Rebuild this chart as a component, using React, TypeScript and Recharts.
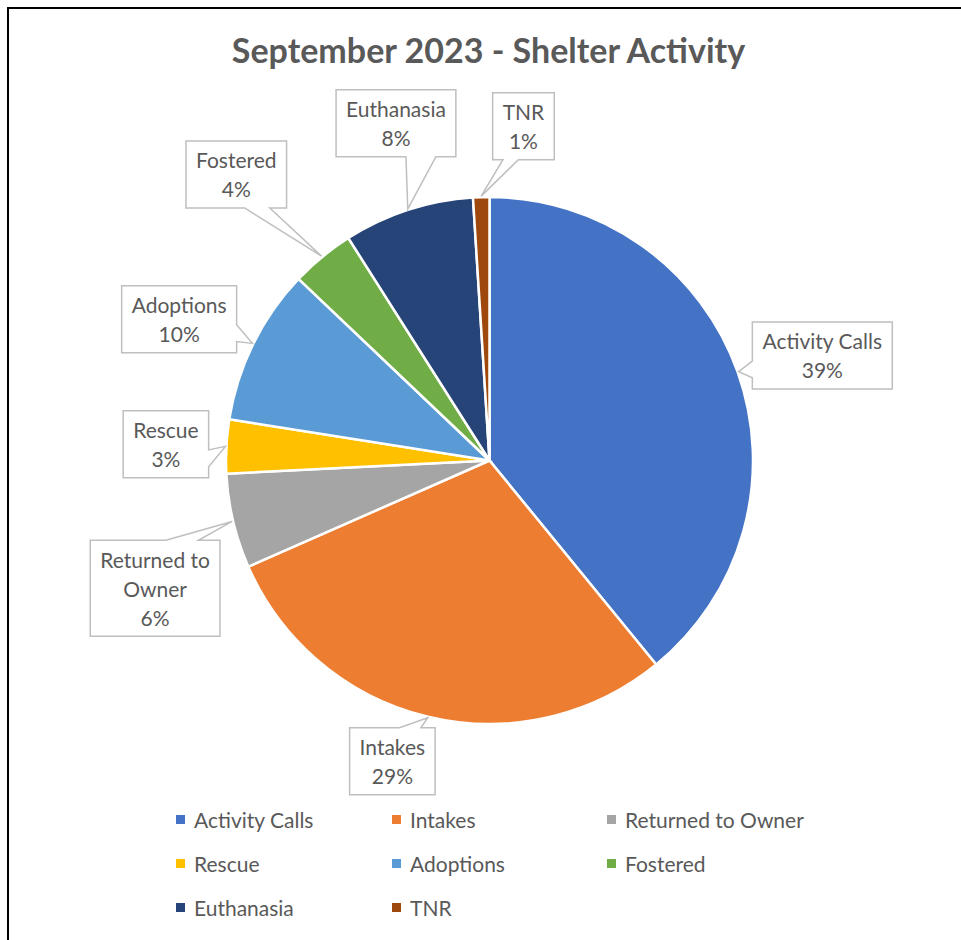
import React from "react";
import { PieChart, Pie, Cell, Legend } from "recharts";

const categories = [
  "Activity Calls",
  "Intakes",
  "Returned to Owner",
  "Rescue",
  "Adoptions",
  "Fostered",
  "Euthanasia",
  "TNR",
];
const values = [39.1, 29.3, 5.8, 3.3, 9.6, 3.9, 8.0, 1.0];
const colors = ["#4472C4", "#ED7D31", "#A5A5A5", "#FFC000", "#5B9BD5", "#70AD47", "#264478", "#9E480E"];

// callout placement: distance of box centre from pie centre, and angle nudge (deg, clockwise)
const labelDist = [349, 316, 358, 324, 341, 382, 350, 336];
const labelShift = [2.1, 4.4, -7.6, -0.2, -1.8, -2.1, 2.5, 7.6];

const data = categories.map((name, i) => ({ name, value: values[i] }));

const FONT = "Lato, 'Open Sans', sans-serif";
const TEXT = "#595959";
const LABEL_SIZE = 21;
const LINE_H = 29;

let ctx: CanvasRenderingContext2D | null = null;
function measure(s: string) {
  if (!ctx) ctx = document.createElement("canvas").getContext("2d");
  if (!ctx) return s.length * 10;
  ctx.font = `${LABEL_SIZE}px Lato`;
  return ctx.measureText(s).width;
}

function wrap(text: string, maxW: number) {
  const words = text.split(" ");
  const out: string[] = [];
  let cur = "";
  for (const w of words) {
    const t = cur ? cur + " " + w : w;
    if (cur && measure(t) > maxW) {
      out.push(cur);
      cur = w;
    } else cur = t;
  }
  if (cur) out.push(cur);
  return out;
}

// same geometry as the wedgeRectCallout shape
function calloutPath(x: number, y: number, w: number, h: number, px: number, py: number) {
  const dx = px - (x + w / 2);
  const dy = py - (y + h / 2);
  const horiz = Math.abs(dx) / w > Math.abs(dy) / h;
  const x1 = x + (w * (dx > 0 ? 7 : 2)) / 12;
  const x2 = x + (w * (dx > 0 ? 10 : 5)) / 12;
  const y1 = y + (h * (dy > 0 ? 7 : 2)) / 12;
  const y2 = y + (h * (dy > 0 ? 10 : 5)) / 12;
  const r = x + w;
  const b = y + h;
  let d = `M${x},${y}`;
  if (!horiz && dy < 0) d += ` L${x1},${y} L${px},${py} L${x2},${y}`;
  d += ` L${r},${y}`;
  if (horiz && dx > 0) d += ` L${r},${y1} L${px},${py} L${r},${y2}`;
  d += ` L${r},${b}`;
  if (!horiz && dy > 0) d += ` L${x2},${b} L${px},${py} L${x1},${b}`;
  d += ` L${x},${b}`;
  if (horiz && dx < 0) d += ` L${x},${y2} L${px},${py} L${x},${y1}`;
  return d + " Z";
}

const renderLabel = (props: any) => {
  const { cx, cy, midAngle, outerRadius, percent, name, index } = props;
  const RAD = Math.PI / 180;
  const tx = cx + (outerRadius + 1) * Math.cos(-midAngle * RAD);
  const ty = cy + (outerRadius + 1) * Math.sin(-midAngle * RAD);
  const theta = (90 - midAngle + labelShift[index]) * RAD;
  const bx = cx + labelDist[index] * Math.sin(theta);
  const by = cy - labelDist[index] * Math.cos(theta);
  const lines = [...wrap(name, 135), `${Math.round(percent * 100)}%`];
  const w = Math.max(...lines.map(measure)) + 20;
  const h = lines.length * LINE_H + 9;
  return (
    <g>
      <path d={calloutPath(bx - w / 2, by - h / 2, w, h, tx, ty)} fill="#fff" stroke="#BFBFBF" strokeWidth={1.5} />
      {lines.map((l, k) => (
        <text
          key={k}
          x={bx}
          y={by + (k - (lines.length - 1) / 2) * LINE_H}
          textAnchor="middle"
          dominantBaseline="central"
          fill={TEXT}
          fontSize={LABEL_SIZE}
          fontFamily={FONT}
        >
          {l}
        </text>
      ))}
    </g>
  );
};

const legendCols = [176, 392, 607];

const renderLegend = (props: any) => {
  const items = [...(props.payload || [])].sort(
    (a: any, b: any) => categories.indexOf(a.value) - categories.indexOf(b.value)
  );
  return (
    <div style={{ position: "relative", width: 961, height: 130 }}>
      {items.map((it: any, i: number) => (
        <div
          key={i}
          style={{
            position: "absolute",
            left: legendCols[i % 3],
            top: Math.floor(i / 3) * 44,
            display: "flex",
            alignItems: "center",
            fontFamily: FONT,
            fontSize: LABEL_SIZE,
            color: TEXT,
            whiteSpace: "nowrap",
          }}
        >
          <span style={{ width: 9, height: 9, background: it.color, marginRight: 9, display: "inline-block" }} />
          {it.value}
        </div>
      ))}
    </div>
  );
};

export default function App() {
  return (
    <div style={{ position: "absolute", left: 0, top: 0, width: 961, height: 940, background: "#fff" }}>
      <div
        style={{
          position: "absolute",
          left: 7,
          top: 7,
          width: 1000,
          height: 1000,
          borderLeft: "2px solid #000",
          borderTop: "2px solid #000",
        }}
      />
      <div
        style={{
          position: "absolute",
          left: 0,
          top: 29,
          width: 977,
          textAlign: "center",
          fontFamily: FONT,
          fontWeight: 700,
          fontSize: 34,
          color: TEXT,
        }}
      >
        September 2023 - Shelter Activity
      </div>
      <div style={{ position: "absolute", left: 0, top: 0 }}>
        <PieChart width={961} height={940} margin={{ top: 0, right: 0, bottom: 0, left: 0 }}>
          <Pie
            data={data}
            dataKey="value"
            nameKey="name"
            cx={489.5}
            cy={460.5}
            outerRadius={263.5}
            startAngle={90}
            endAngle={-270}
            stroke="#fff"
            strokeWidth={2.5}
            label={renderLabel}
            labelLine={false}
            isAnimationActive={false}
          >
            {data.map((d, i) => (
              <Cell key={d.name} fill={colors[i]} />
            ))}
          </Pie>
          <Legend
            content={renderLegend}
            wrapperStyle={{ position: "absolute", left: 0, top: 807, width: 961, height: 130 }}
          />
        </PieChart>
      </div>
    </div>
  );
}
